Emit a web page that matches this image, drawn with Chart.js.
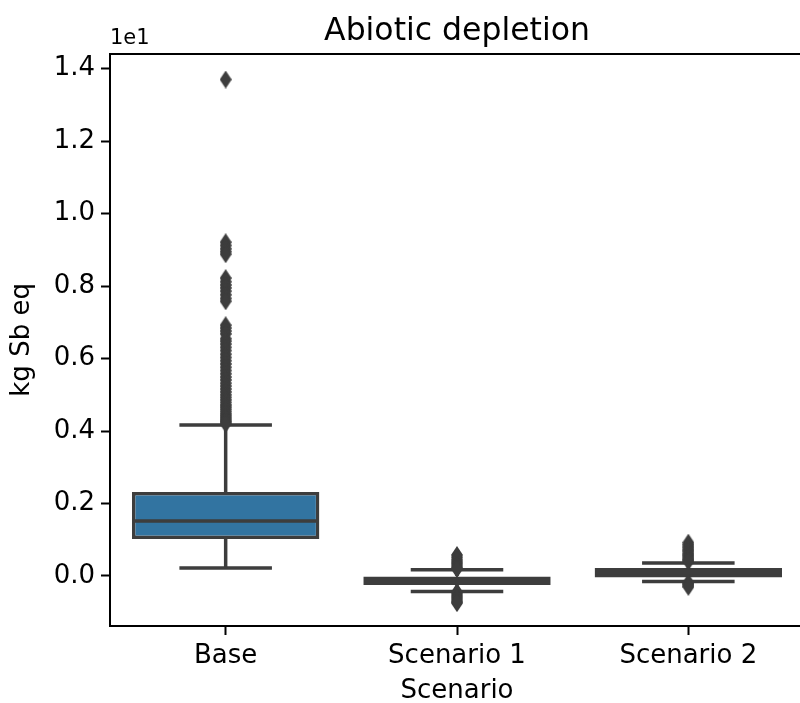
<!DOCTYPE html>
<html>
<head>
<meta charset="utf-8">
<title>Abiotic depletion</title>
<script src="https://cdn.jsdelivr.net/npm/chart.js@4.4.1/dist/chart.umd.min.js"></script>
<style>
  html, body { margin: 0; padding: 0; background: #fff; overflow: hidden; }
  #wrap { width: 811px; height: 703px; }
</style>
</head>
<body>
<div id="wrap"><canvas id="myChart" width="811" height="703"></canvas></div>
<script>
// values in units of 1e1 kg Sb eq (as shown on the axis)
const categories = ['Base', 'Scenario 1', 'Scenario 2'];
const q1 = [0.102, -0.025, -0.004];
const medians = [0.152, -0.012, 0.009];
const q3 = [0.232, 0.0, 0.022];
const whiskerLow = [0.022, -0.043, -0.015];
const whiskerHigh = [0.417, 0.017, 0.036];

const baseOutliers = [
  1.37,
  0.921, 0.912, 0.903, 0.895, 0.888,
  0.822, 0.812, 0.803, 0.795, 0.786, 0.776, 0.766, 0.758,
  0.692, 0.684, 0.676, 0.668, 0.655, 0.648, 0.640, 0.631, 0.622, 0.612,
  0.603, 0.594, 0.585, 0.576, 0.567, 0.558, 0.549, 0.541, 0.532, 0.524,
  0.516, 0.508, 0.500, 0.493, 0.486, 0.479, 0.472, 0.466, 0.460, 0.454,
  0.448, 0.443, 0.438, 0.433, 0.428, 0.424, 0.420
];
const scenario1Outliers = [
  0.058, 0.052, 0.046, 0.041, 0.036, 0.031, 0.026, 0.022, 0.019,
  -0.044, -0.048, -0.053, -0.058, -0.063, -0.068, -0.072, -0.075
];
const scenario2Outliers = [
  0.092, 0.086, 0.080, 0.074, 0.069, 0.063, 0.058, 0.053, 0.048, 0.044, 0.040,
  -0.018, -0.022, -0.026, -0.030
];
const outliers = [baseOutliers, scenario1Outliers, scenario2Outliers];

const yTicks = [0.0, 0.2, 0.4, 0.6, 0.8, 1.0, 1.2, 1.4];

const boxColors = ['#3274a1', '#e1812c', '#3a923a'];
const lineColor = '#3d3d3d';
const FONT = '"DejaVu Sans", sans-serif';

// thin diamond marker like matplotlib 'd'
function makeDiamond() {
    const c = document.createElement('canvas');
    c.width = 12; c.height = 18;
    const g = c.getContext('2d');
    g.fillStyle = lineColor;
    g.beginPath();
    g.moveTo(6, 0); g.lineTo(12, 9); g.lineTo(6, 18); g.lineTo(0, 9);
    g.closePath();
    g.fill();
    return c;
}

// build line segments separated by gaps
function segments(list) {
    const pts = [];
    list.forEach(function (s) {
        pts.push({x: s[0], y: s[1]}, {x: s[2], y: s[3]}, {x: s[2], y: null});
    });
    return pts;
}

const half = 0.4;   // half box width
const capHalf = 0.2;

const boxData = categories.map((c, i) => ({x: i, y: [q1[i], q3[i]]}));
const whiskerData = segments(categories.flatMap((c, i) => [
    [i, q3[i], i, whiskerHigh[i]],
    [i, q1[i], i, whiskerLow[i]]
]));
const capData = segments(categories.flatMap((c, i) => [
    [i - capHalf, whiskerHigh[i], i + capHalf, whiskerHigh[i]],
    [i - capHalf, whiskerLow[i], i + capHalf, whiskerLow[i]]
]));
const medianData = segments(categories.map((c, i) => [i - half, medians[i], i + half, medians[i]]));
const flierData = outliers.flatMap((arr, i) => arr.map(v => ({x: i, y: v})));

// matplotlib style "1e1" multiplier above the y axis
const offsetText = {
    id: 'offsetText',
    afterDraw(chart) {
        const {ctx, chartArea} = chart;
        ctx.save();
        ctx.font = '21px ' + FONT;
        ctx.fillStyle = '#000';
        ctx.textAlign = 'left';
        ctx.textBaseline = 'bottom';
        ctx.fillText('1e1', chartArea.left, chartArea.top - 5);
        ctx.restore();
    }
};

const ctx = document.getElementById('myChart').getContext('2d');
new Chart(ctx, {
    type: 'bar',
    data: {
        datasets: [
            {
                type: 'scatter',
                data: flierData,
                pointStyle: makeDiamond(),
                pointRadius: 6,
                order: 0
            },
            {
                type: 'line',
                data: medianData,
                borderColor: lineColor,
                borderWidth: 3.5,
                pointRadius: 0,
                spanGaps: false,
                order: 1
            },
            {
                type: 'bar',
                data: boxData,
                backgroundColor: boxColors,
                borderColor: lineColor,
                borderWidth: 3.5,
                borderSkipped: false,
                categoryPercentage: 0.81,
                barPercentage: 1,
                order: 2
            },
            {
                type: 'line',
                data: capData,
                borderColor: lineColor,
                borderWidth: 3.5,
                pointRadius: 0,
                spanGaps: false,
                order: 3
            },
            {
                type: 'line',
                data: whiskerData,
                borderColor: lineColor,
                borderWidth: 3.5,
                pointRadius: 0,
                spanGaps: false,
                order: 4
            }
        ]
    },
    options: {
        responsive: false,
        animation: false,
        events: [],
        layout: { padding: 0 },
        plugins: {
            legend: { display: false },
            tooltip: { enabled: false },
            title: {
                display: true,
                fullSize: false,
                text: 'Abiotic depletion',
                color: '#000',
                font: { family: FONT, size: 31.5, weight: 'normal' },
                padding: { top: 13, bottom: 3 }
            }
        },
        scales: {
            x: {
                type: 'linear',
                position: 'bottom',
                min: -0.5,
                max: 2.5,
                offset: false,
                grid: { display: true, drawOnChartArea: false, offset: false, tickLength: 9, tickWidth: 2, tickColor: '#000' },
                border: { display: true, color: '#000', width: 2 },
                ticks: {
                    color: '#000',
                    font: { family: FONT, size: 26 },
                    padding: 6,
                    autoSkip: false,
                    maxRotation: 0,
                    callback: (v) => categories[Math.round(v)]
                },
                afterBuildTicks: (scale) => { scale.ticks = categories.map((c, i) => ({value: i})); },
                afterFit: (scale) => { scale.height = 77; },
                title: {
                    display: true,
                    text: 'Scenario',
                    color: '#000',
                    font: { family: FONT, size: 26, lineHeight: 1.0 },
                    padding: { top: 0, bottom: -1 }
                }
            },
            xTop: {
                type: 'linear',
                position: 'top',
                display: true,
                min: -0.5,
                max: 2.5,
                grid: { display: false },
                ticks: { display: false },
                border: { display: true, color: '#000', width: 2 },
                afterFit: (scale) => { scale.height = 0; }
            },
            y: {
                type: 'linear',
                min: -0.138,
                max: 1.441,
                grid: { display: true, drawOnChartArea: false, tickLength: 9, tickWidth: 2, tickColor: '#000' },
                border: { display: true, color: '#000', width: 2 },
                ticks: {
                    color: '#000',
                    font: { family: FONT, size: 26 },
                    padding: 6,
                    callback: (v) => v.toFixed(1)
                },
                afterBuildTicks: (scale) => { scale.ticks = yTicks.map(v => ({value: v})); },
                afterFit: (scale) => { scale.width = 110; },
                title: {
                    display: true,
                    text: 'kg Sb eq',
                    color: '#000',
                    font: { family: FONT, size: 26 },
                    padding: { top: 7, bottom: 0 }
                }
            }
        }
    },
    plugins: [offsetText]
});
</script>
</body>
</html>
